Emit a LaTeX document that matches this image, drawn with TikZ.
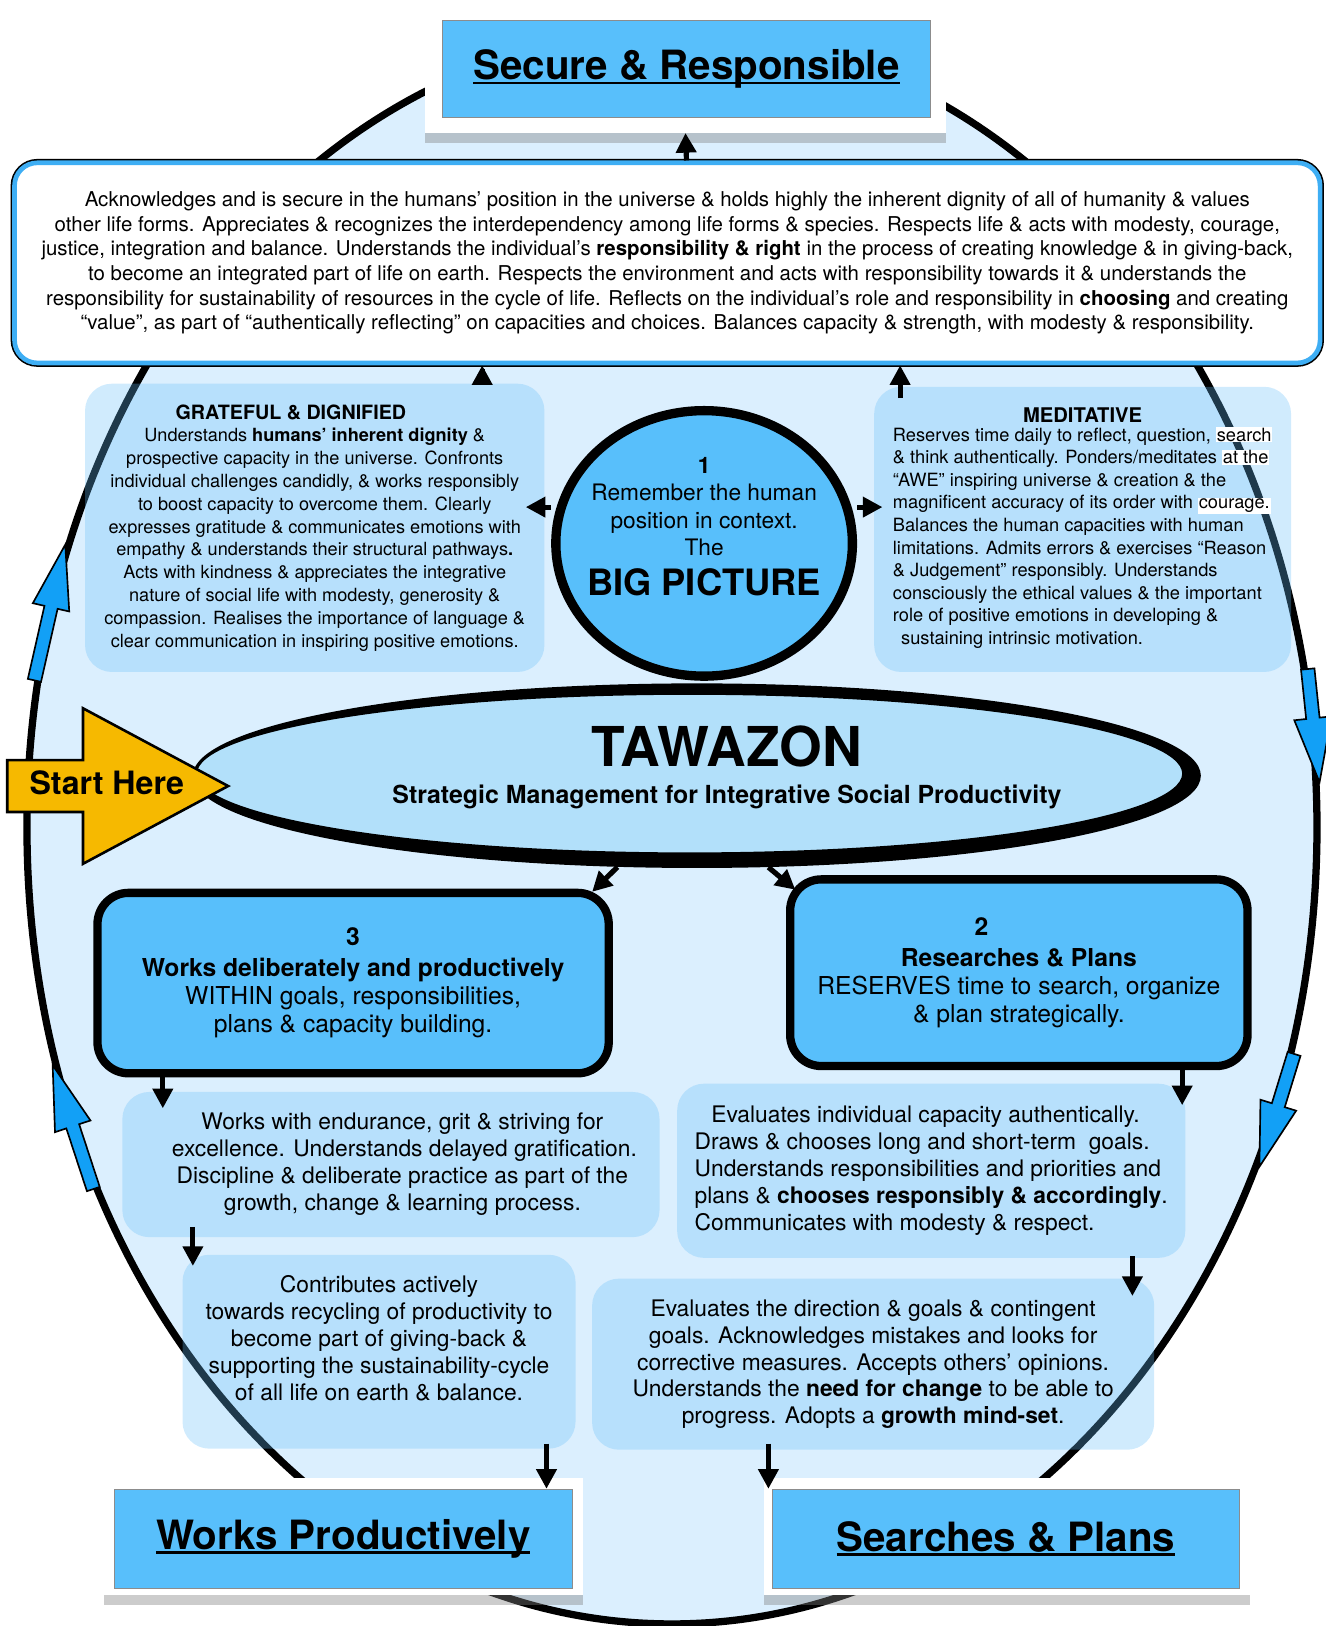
\documentclass[tikz,border=0pt]{standalone}
\usepackage{fontspec}
\setmainfont{TeX Gyre Heros}
\usetikzlibrary{arrows.meta,calc,positioning,shapes.geometric,shadows}

\definecolor{loopfill}{RGB}{219,239,254}
\definecolor{boxblue}{RGB}{88,191,251}
\definecolor{paleblue}{RGB}{100,190,250}
\definecolor{tawfill}{RGB}{178,224,250}
\definecolor{rimblue}{RGB}{62,174,244}
\definecolor{flowblue}{RGB}{18,160,246}
\definecolor{startyellow}{RGB}{246,185,0}

\newcommand{\tul}[1]{\setbox0\hbox{#1}\rlap{\rule[-4.5pt]{\wd0}{2.6pt}}\box0}
\newcommand{\hlw}[1]{{\setlength{\fboxsep}{0.8pt}\colorbox{white}{#1}}}
% block arrow along the loop: tail, tip, name
\newcommand{\flowarrow}[3]{%
  \coordinate (#3h) at ($(#2)!62pt!(#1)$);
  \draw[flowshape] ($(#1)!6.5pt!90:(#2)$) -- ($(#3h)!6.5pt!-90:(#1)$)
    -- ($(#3h)!18pt!-90:(#1)$) -- (#2) -- ($(#3h)!18pt!90:(#1)$)
    -- ($(#3h)!6.5pt!90:(#1)$) -- ($(#1)!6.5pt!-90:(#2)$) -- cycle;
}

\begin{document}
\begin{tikzpicture}[
    x=1pt, y=-1pt,
    >={Triangle[length=19pt,width=19pt]},
    arr/.style={line width=5pt,->},
    flowshape/.style={draw=black, line width=1.6pt, fill=flowblue, line join=miter},
    bannerframe/.style={rectangle, fill=white, inner sep=0pt,
        drop shadow={shadow xshift=0pt, shadow yshift=-10pt, opacity=0.4}},
    banner/.style={rectangle, fill=boxblue, draw=black!45, line width=0.6pt,
        inner sep=0pt, font=\fontsize{38.9}{44}\selectfont\bfseries},
    pale/.style={rectangle, rounded corners=26pt, fill=paleblue, fill opacity=0.3,
        text opacity=1, inner sep=0pt, align=center},
    stepbox/.style={rectangle, rounded corners=30pt, draw=black, line width=8pt,
        fill=boxblue, inner sep=0pt, align=center,
        font=\fontsize{23.8}{27}\selectfont},
    ]
    \useasboundingbox (0,0) rectangle (1278,1568);

    % the loop
    \node[ellipse, draw=black, line width=7pt, fill=loopfill, inner sep=0pt,
        minimum width=1244pt, minimum height=1536pt] (loop) at (648,798) {};

    \node[pale, minimum width=443pt, minimum height=278pt,
        font=\fontsize{17.5}{22}\selectfont] (grateful) at (303.5,509)
        {{\fontsize{19}{22}\selectfont\textbf{GRATEFUL \& DIGNIFIED}}\hspace*{46pt}\\
        Understands \textbf{humans’ inherent dignity} \&\\
        prospective capacity in the universe. Confronts\\
        individual challenges candidly, \& works responsibly\\
        to boost capacity to overcome them. Clearly\\
        expresses gratitude \& communicates emotions with\\
        empathy \& understands their structural pathways\textbf{.}\\
        Acts with kindness \& appreciates the integrative\\
        nature of social life with modesty, generosity \&\\
        compassion. Realises the importance of language \&\\
        clear communication in inspiring positive emotions.};
    \node[pale, minimum width=402pt, minimum height=275pt,
        font=\fontsize{17.6}{21.8}\selectfont] (meditative) at (1044,510.5)
        {{\fontsize{19.5}{22}\selectfont\textbf{MEDITATIVE}}\\[2pt]
        \begin{tabular}{@{}l@{}}
        Reserves time daily to reflect, question, \hlw{search}\\
        \& think authentically. Ponders/meditates \hlw{at the}\\
        “AWE” inspiring universe \& creation \& the\\
        magnificent accuracy of its order with \hlw{courage.}\\
        Balances the human capacities with human\\
        limitations. Admits errors \& exercises “Reason\\
        \& Judgement” responsibly. Understands\\
        consciously the ethical values \& the important\\
        role of positive emotions in developing \&\\
        \hspace*{8pt}sustaining intrinsic motivation.
        \end{tabular}};
    \node[pale, minimum width=518pt, minimum height=140pt,
        font=\fontsize{22}{26}\selectfont] (endure) at (377,1123)
        {\hspace*{22pt}Works with endurance, grit \& striving for\\
        \hspace*{26pt}excellence. Understands delayed gratification.\\
        \hspace*{22pt}Discipline \& deliberate practice as part of the\\
        \hspace*{22pt}growth, change \& learning process.};
    \node[pale, minimum width=379pt, minimum height=187pt,
        font=\fontsize{22}{26}\selectfont] (contrib) at (365.5,1303.5)
        {Contributes actively\\
        towards recycling of productivity to\\
        become part of giving-back \&\\
        supporting the sustainability-cycle\\
        of all life on earth \& balance.\\
        \rule{0pt}{18pt}};
    \node[pale, minimum width=490pt, minimum height=168pt,
        font=\fontsize{22}{26}\selectfont] (capacity) at (898,1129)
        {\begin{tabular}{@{}l@{}}
        \hspace*{16pt}Evaluates individual capacity authentically.\\
        Draws \& chooses long and short-term\ \ goals.\\
        Understands responsibilities and priorities and\\
        plans \& \textbf{chooses responsibly \& accordingly}.\\
        Communicates with modesty \& respect.
        \end{tabular}};
    \node[pale, minimum width=542pt, minimum height=165pt,
        font=\fontsize{22}{26}\selectfont] (direction) at (842,1315.5)
        {Evaluates the direction \& goals \& contingent\\
        goals. Acknowledges mistakes and looks for\\
        corrective measures. Accepts others’ opinions.\\
        Understands the \textbf{need for change} to be able to\\
        progress. Adopts a \textbf{growth mind-set}.};

    % direction of the loop
    \coordinate (lu1) at (loop.167);
    \coordinate (lu2) at (loop.155);
    \coordinate (ll1) at (loop.212);
    \coordinate (ll2) at (loop.201);
    \coordinate (ru1) at (loop.14);
    \coordinate (ru2) at (loop.4);
    \coordinate (rl1) at (loop.-20);
    \coordinate (rl2) at (loop.-30);
    \flowarrow{lu1}{lu2}{lu}
    \flowarrow{ll1}{ll2}{ll}
    \flowarrow{ru1}{ru2}{ru}
    \flowarrow{rl1}{rl2}{rl}

    \node[rectangle, rounded corners=22pt, fill=white, draw=rimblue,
        line width=4.5pt, preaction={draw=black, line width=7.5pt},
        minimum width=1259pt, minimum height=193pt, inner sep=0pt, align=center,
        font=\fontsize{19.7}{23.8}\selectfont] (desc) at (643.5,253.5)
        {Acknowledges and is secure in the humans’ position in the universe \& holds highly the inherent dignity of all of humanity \& values\\
        other life forms. Appreciates \& recognizes the interdependency among life forms \& species. Respects life \& acts with modesty, courage,\\
        justice, integration and balance. Understands the individual’s \textbf{responsibility \& right} in the process of creating knowledge \& in giving-back,\\
        to become an integrated part of life on earth. Respects the environment and acts with responsibility towards it \& understands the\\
        responsibility for sustainability of resources in the cycle of life. Reflects on the individual’s role and responsibility in \textbf{choosing} and creating\\
        “value”, as part of “authentically reflecting” on capacities and choices. Balances capacity \& strength, with modesty \& responsibility.};

    % banners
    \node[bannerframe, minimum width=502pt, minimum height=123pt] (secureframe) at (661,66.5) {};
    \node[banner, minimum width=470pt, minimum height=93pt] (secure) at (662,66.5)
        {\tul{Secure \& Responsible}};
    \node[bannerframe, minimum width=462pt, minimum height=113pt] (worksframe) at (331,1481.5) {};
    \node[banner, minimum width=442pt, minimum height=96pt] (worksprod) at (331,1484)
        {\tul{Works Productively}};
    \node[bannerframe, minimum width=468pt, minimum height=113pt] (searchframe) at (971,1481.5) {};
    \node[banner, minimum width=450pt, minimum height=96pt] (searches) at (970,1484)
        {\tul{Searches \& Plans}};

    % centre ellipse
    \node[ellipse, fill=black, minimum width=972pt, minimum height=178pt,
        inner sep=0pt] (tawshadow) at (672,748) {};
    \node[ellipse, fill=tawfill, draw=black, line width=2pt, inner sep=0pt,
        minimum width=952pt, minimum height=154pt] (tawazon) at (665,746) {};
    \node[align=center, font=\fontsize{24}{35}\selectfont\bfseries] (tawazontext) at (701,740)
        {{\fontsize{53}{56}\selectfont TAWAZON}\\
        Strategic Management for Integrative Social Productivity};

    \draw[draw=black, line width=2.5pt, fill=startyellow, line join=miter]
        (7,733) -- (80,733) -- (80,683) -- (220,758) -- (80,833)
        -- (80,783) -- (7,783) -- cycle;
    \node[font=\fontsize{31}{34}\selectfont\bfseries] (start) at (103,755) {Start Here};

    \node[ellipse, draw=black, line width=9pt, fill=boxblue, inner sep=0pt,
        minimum width=286pt, minimum height=256pt] (bigpic) at (679,524) {};
    \node[align=center, font=\fontsize{21.9}{26.5}\selectfont] (bigpictext) at (679,508)
        {\textbf{1}\\Remember the human\\position in context.\\The\\[12pt]
        {\fontsize{35}{38}\selectfont\bfseries BIG PICTURE}};

    \node[stepbox, minimum width=493pt, minimum height=174pt] (works) at (340.5,948)
        {\textbf{3}\\[3pt]\textbf{Works deliberately and productively}\\
        WITHIN goals, responsibilities,\\plans \& capacity building.};
    \node[stepbox, minimum width=441pt, minimum height=180pt] (research) at (982.5,938)
        {\textbf{2}\hspace*{72pt}\\[3pt]\textbf{Researches \& Plans}\\
        RESERVES time to search, organize\\\& plan strategically.};

    % connectors
    \coordinate (gx) at (465,0);
    \coordinate (mx) at (868,0);
    \coordinate (bl) at (507,489);
    \coordinate (br) at (851,489);
    \coordinate (t1) at (571,860);
    \coordinate (t2) at (767,858);
    \coordinate (wx) at (157,0);
    \coordinate (rx) at (1140,0);
    \coordinate (ex) at (186,0);
    \coordinate (cx) at (1092,0);
    \coordinate (px) at (527,0);
    \coordinate (sx) at (741,0);
    \draw[arr] (desc.north -| secure.south) -- (secureframe.south);
    \draw[arr, shorten <=-14pt] (grateful.north -| gx) -- (gx |- desc.south);
    \draw[arr, shorten <=-11pt] (meditative.north -| mx) -- (mx |- desc.south);
    \draw[arr] (bigpic.west |- bl) -- (bl);
    \draw[arr] (bigpic.east |- br) -- (br);
    \draw[arr] (tawshadow.229) -- (t1);
    \draw[arr] (tawshadow.308) -- (t2);
    \draw[arr, shorten >=-16pt] (works.south -| wx) -- (wx |- endure.north);
    \draw[arr, shorten >=-21pt] (research.south -| rx) -- (rx |- capacity.north);
    \draw[arr, shorten <=-10pt, shorten >=-11pt] (endure.south -| ex) -- (ex |- contrib.north);
    \draw[arr, shorten <=-2pt, shorten >=-17pt] (capacity.south -| cx) -- (cx |- direction.north);
    \draw[arr, shorten <=-5pt] (contrib.south -| px) -- (px |- worksprod.north);
    \draw[arr, shorten <=-6pt] (direction.south -| sx) -- (sx |- searches.north);
\end{tikzpicture}
\end{document}
